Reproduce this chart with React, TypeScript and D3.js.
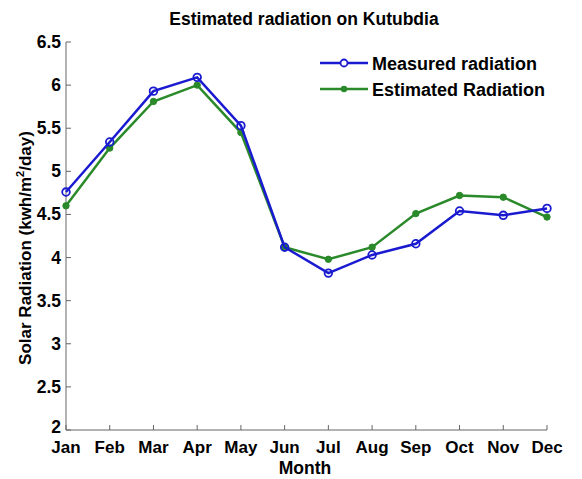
import React from "react";
import * as d3 from "d3";

const months = ["Jan", "Feb", "Mar", "Apr", "May", "Jun", "Jul", "Aug", "Sep", "Oct", "Nov", "Dec"];
const measured = [4.76, 5.34, 5.93, 6.09, 5.53, 4.12, 3.82, 4.03, 4.16, 4.54, 4.49, 4.57];
const estimated = [4.6, 5.27, 5.81, 6.0, 5.45, 4.12, 3.98, 4.12, 4.51, 4.72, 4.7, 4.47];
const yTicks = [2, 2.5, 3, 3.5, 4, 4.5, 5, 5.5, 6, 6.5];
const seriesNames = ["Measured radiation", "Estimated Radiation"];

const W = 582, H = 479;
const left = 66, right = 547, top = 42, bottom = 430;
const FONT = "Arial, 'Liberation Sans', sans-serif";
const BLUE = "#1a1ad0";
const GREEN = "#2a8a2a";

export default function App() {
  const x = d3.scalePoint<string>().domain(months).range([left, right]);
  const y = d3.scaleLinear().domain([2, 6.5]).range([bottom, top]);
  const line = d3.line<number>().x((_, i) => x(months[i])!).y(d => y(d));

  return (
    <svg width={W} height={H} style={{ position: "absolute", left: 0, top: 0, background: "#fff" }}>
      <rect width={W} height={H} fill="#fff" />
      <text x={304} y={25} textAnchor="middle" fontFamily={FONT} fontWeight="bold" fontSize={17.5}>
        Estimated radiation on Kutubdia
      </text>
      {/* axes */}
      <line x1={left} x2={left} y1={top} y2={bottom} stroke="#666" strokeWidth={1} />
      <line x1={left} x2={right} y1={bottom} y2={bottom} stroke="#666" strokeWidth={1} />
      {yTicks.map((t, i) => (
        <g key={t}>
          <line x1={left} x2={left + 5} y1={y(t)} y2={y(t)} stroke="#666" />
          <text x={left - 5} y={y(t) + (i === 0 ? 2.5 : 6)} textAnchor="end" fontFamily={FONT} fontWeight="bold" fontSize={17.5}>
            {t}
          </text>
        </g>
      ))}
      {months.map(m => (
        <g key={m}>
          <line x1={x(m)} x2={x(m)} y1={bottom} y2={bottom - 5} stroke="#666" />
          <text x={x(m)} y={453} textAnchor="middle" fontFamily={FONT} fontWeight="bold" fontSize={17}>
            {m}
          </text>
        </g>
      ))}
      <text x={305} y={474} textAnchor="middle" fontFamily={FONT} fontWeight="bold" fontSize={17.5}>
        Month
      </text>
      <text
        transform={`translate(31, 248) rotate(-90)`}
        textAnchor="middle"
        fontFamily={FONT}
        fontWeight="bold"
        fontSize={17}
      >
        Solar Radiation (kwh/m<tspan dy={-7} fontSize={11}>2</tspan><tspan dy={7}>/day)</tspan>
      </text>
      {/* series */}
      <path d={line(estimated)!} fill="none" stroke={GREEN} strokeWidth={2.5} />
      {estimated.map((v, i) => (
        <circle key={i} cx={x(months[i])} cy={y(v)} r={3.2} fill={GREEN} stroke={GREEN} strokeWidth={1} />
      ))}
      <path d={line(measured)!} fill="none" stroke={BLUE} strokeWidth={2.5} />
      {measured.map((v, i) => (
        <circle key={i} cx={x(months[i])} cy={y(v)} r={3.8} fill="none" stroke={BLUE} strokeWidth={1.8} />
      ))}
      {/* legend */}
      <g>
        <line x1={320} x2={368} y1={63} y2={63} stroke={BLUE} strokeWidth={2.5} />
        <circle cx={344} cy={63} r={3.5} fill="#fff" stroke={BLUE} strokeWidth={1.8} />
        <text x={372} y={70} fontFamily={FONT} fontWeight="bold" fontSize={18}>{seriesNames[0]}</text>
        <line x1={320} x2={368} y1={89} y2={89} stroke={GREEN} strokeWidth={2.5} />
        <circle cx={344} cy={89} r={3.2} fill={GREEN} />
        <text x={372} y={96} fontFamily={FONT} fontWeight="bold" fontSize={18}>{seriesNames[1]}</text>
      </g>
    </svg>
  );
}
